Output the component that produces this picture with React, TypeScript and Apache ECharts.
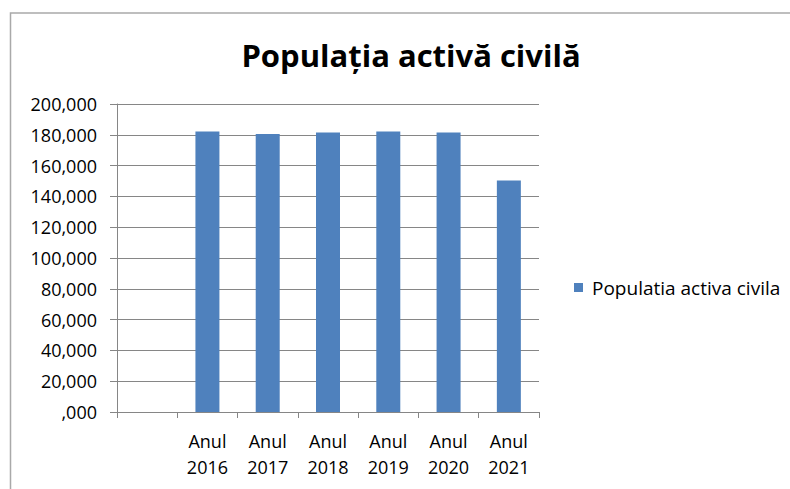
import React, { useEffect, useRef } from "react";
import * as echarts from "echarts";

const titleText = "Populația activă civilă";
const seriesName = "Populatia activa civila";
const categories = ["", "Anul 2016", "Anul 2017", "Anul 2018", "Anul 2019", "Anul 2020", "Anul 2021"];
const values: (number | null)[] = [null, 182100, 180600, 181500, 182100, 181500, 150300];
const yMin = 0;
const yMax = 200000;
const yInterval = 20000;

const FONT = "Open Sans";

export default function App() {
  const ref = useRef<HTMLDivElement>(null);
  useEffect(() => {
    if (!ref.current) return;
    const chart = echarts.init(ref.current, undefined, { renderer: "svg" });
    chart.setOption({
      animation: false,
      backgroundColor: "#ffffff",
      title: {
        text: titleText,
        left: 406,
        top: 34,
        textAlign: "center",
        textStyle: { fontFamily: FONT, fontWeight: "bold", fontSize: 31, color: "#000000" },
      },
      graphic: [
        {
          type: "rect",
          shape: { x: 10.5, y: 13, width: 800, height: 500 },
          style: { fill: "none", stroke: "#a9a9a9", lineWidth: 1.5 },
          silent: true,
        },
      ],
      legend: {
        left: 569,
        top: 273,
        itemWidth: 9,
        itemHeight: 9,
        icon: "rect",
        data: [seriesName],
        textStyle: { fontFamily: FONT, fontSize: 19, color: "#000000", padding: [0, 0, 0, 4] },
      },
      grid: { left: 117, right: 251, top: 104, bottom: 77, containLabel: false },
      xAxis: {
        type: "category",
        data: categories,
        axisLine: { lineStyle: { color: "#868686", width: 1 } },
        axisTick: { show: true, length: 6, lineStyle: { color: "#868686" } },
        axisLabel: {
          fontFamily: FONT,
          fontSize: 18,
          color: "#000000",
          margin: 16,
          lineHeight: 26,
          formatter: (v: string) => v.replace(" ", "\n"),
        },
      },
      yAxis: {
        type: "value",
        min: yMin,
        max: yMax,
        interval: yInterval,
        axisLine: { show: true, lineStyle: { color: "#868686", width: 1 } },
        axisTick: { show: true, length: 7, lineStyle: { color: "#868686" } },
        splitLine: { lineStyle: { color: "#868686", width: 1 } },
        axisLabel: {
          fontFamily: FONT,
          fontSize: 18,
          color: "#000000",
          margin: 20,
          formatter: (v: number) => (v === 0 ? ",000" : v.toLocaleString("en-US")),
        },
      },
      series: [
        {
          name: seriesName,
          type: "bar",
          data: values,
          barWidth: 24,
          itemStyle: { color: "#4f81bd" },
        },
      ],
    });
    return () => chart.dispose();
  }, []);
  return (
    <div
      ref={ref}
      style={{ position: "fixed", left: 0, top: 0, width: 790, height: 489 }}
    />
  );
}
